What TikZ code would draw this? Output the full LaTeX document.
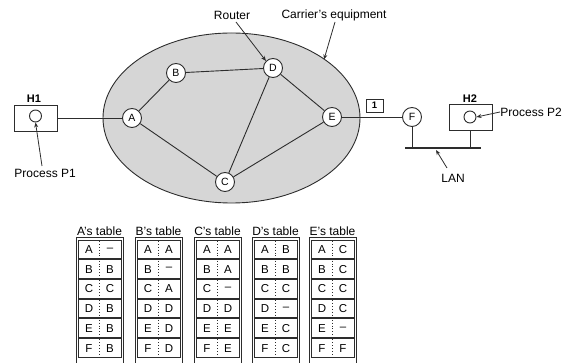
\documentclass[tikz,border=0pt]{standalone}
\usepackage{fontspec}
\setmainfont{Liberation Sans}
\usetikzlibrary{arrows.meta}
\begin{document}
\begin{tikzpicture}[x=1pt,y=-1pt,
  line width=0.9pt, draw={rgb,255:red,45;green,45;blue,45},
  router/.style={circle,draw,fill=white,minimum size=19pt,inner sep=0pt,font=\fontsize{10.5}{12}\selectfont},
  lbl/.style={font=\fontsize{12}{14}\selectfont,inner sep=0pt},
  host/.style={draw,fill=white,minimum width=43pt,minimum height=26pt,inner sep=0pt},
  proc/.style={circle,draw,fill=white,minimum size=12pt,inner sep=0pt},
  pointer/.style={-{Stealth[length=5pt,width=4pt]},line width=0.8pt},
  cell/.style={font=\fontsize{11.5}{13}\selectfont,inner sep=0pt}
]
\useasboundingbox (0,0) rectangle (563,363);
\definecolor{cloud}{RGB}{214,214,214}
% carrier ellipse
\draw[fill=cloud] (231.5,118) ellipse [x radius=128.5, y radius=85];
\node[router] (A) at (132,118) {A};
\node[router] (B) at (176,73) {B};
\node[router] (D) at (273,68) {D};
\node[router] (C) at (225,182) {C};
\node[router] (E) at (332,117) {E};
\node[router] (F) at (412,117) {F};
\draw (A) -- (B);
\draw (B) -- (D);
\draw (A) -- (C);
\draw (C) -- (D);
\draw (C) -- (E);
\draw (D) -- (E);
\draw (E) -- (F);
% hosts
\node[host] (H1) at (35.5,118) {};
\node[proc] (P1) at (35.5,116) {};
\node[lbl,font=\fontsize{11}{13}\selectfont\bfseries] (H1l) at (34,99) {H1};
\draw (H1) -- (A);
\node[host] (H2) at (470.5,117.5) {};
\node[proc] (P2) at (470,117) {};
\node[lbl,font=\fontsize{11}{13}\selectfont\bfseries] (H2l) at (470,99) {H2};
% packet
\node[draw,fill=white,minimum width=17pt,minimum height=13pt,inner sep=0pt,font=\fontsize{9.5}{10}\selectfont\bfseries] (pk) at (374.5,105.5) {1};
% LAN
\coordinate (L1) at (405,148);
\coordinate (L2) at (481,148);
\draw[line width=1.2pt] (L1) -- (L2);
\draw (F.south) -- (F.south |- L1);
\draw (H2.south) -- (H2.south |- L1);
% labels
\node[lbl,anchor=west] (p1l) at (14,173) {Process P1};
\draw[pointer] (42,166) -- (P1.south);
\node[lbl,anchor=west] (p2l) at (500,112) {Process P2};
\draw[pointer] (p2l.west) -- (P2.east);
\node[lbl] (rl) at (232,15) {Router};
\draw[pointer] (236,22) -- (D.north west);
\node[lbl] (cl) at (334,15) {Carrier's equipment};
\coordinate (ce) at (324,59.5);
\draw[pointer] (335,22) -- (ce);
\node[lbl] (lanl) at (453,178) {LAN};
\coordinate (lanp) at (436,150);
\draw[pointer] (447,168) -- (lanp);
% tables
\foreach \name/\x/\entries in {
  A/76/{A/--,B/B,C/C,D/B,E/B,F/B},
  B/135/{A/A,B/--,C/A,D/D,E/D,F/D},
  C/194/{A/A,B/A,C/--,D/D,E/E,F/E},
  D/252/{A/B,B/B,C/C,D/--,E/C,F/C},
  E/309/{A/C,B/C,C/C,D/C,E/--,F/F}} {
  \node[lbl] (t\name) at (\x+23.5,231) {\name's table};
  \draw[line width=1pt] (\x,238) rectangle (\x+47,368);
  \foreach \l/\r [count=\i] in \entries {
    \pgfmathsetmacro{\yt}{240+(\i-1)*19.7}
    \draw[line width=0.8pt] (\x+2,\yt) rectangle (\x+45,\yt+18.7);
    \draw[dotted,line width=0.9pt] (\x+23.5,\yt+1) -- (\x+23.5,\yt+17.7);
    \node[cell] (c\name\i l) at (\x+13,\yt+9.6) {\l};
    \node[cell] (c\name\i r) at (\x+34,\yt+9.6) {\r};
  }
}
\end{tikzpicture}
\end{document}
